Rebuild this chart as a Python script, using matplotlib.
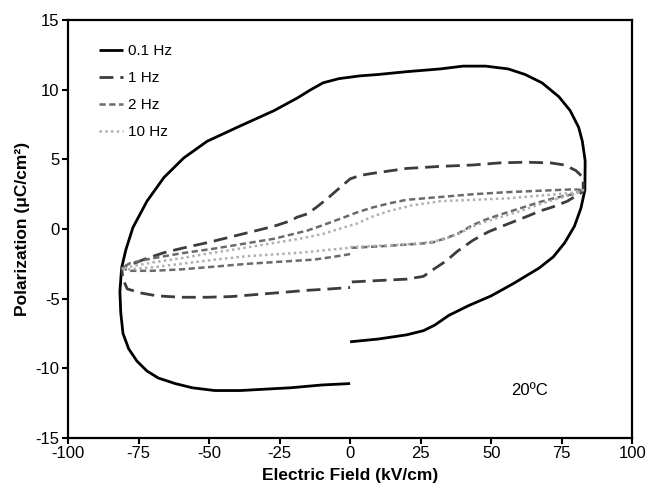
import numpy as np
import matplotlib
matplotlib.use("Agg")
from matplotlib import pyplot as plt

plt.rcParams['font.family'] = ['Liberation Sans', 'DejaVu Sans']
plt.rcParams['axes.unicode_minus'] = False

# 0.1 Hz loop (starts at E=0 on lower branch, goes right, over the top, back)
x01 = [0, 10, 20, 26, 30, 35, 42, 50, 58, 67, 72, 76, 79.5, 81.8, 83.2,
       83.3, 82.3, 81, 78, 74, 68, 62, 56, 48, 40, 32, 20, 10, 3.5, -4, -9.6,
       -14, -18.8, -27, -39, -50.7, -59, -66, -72, -77, -79.5, -81, -81.6,
       -81.3, -80.5, -78.5, -75.5, -72, -68, -62, -56, -48, -39, -30, -21, -10, 0]
y01 = [-8.1, -7.9, -7.6, -7.3, -6.9, -6.2, -5.5, -4.8, -3.9, -2.8, -2.0, -1.0, 0.2, 1.5, 2.8,
       4.9, 6.3, 7.3, 8.5, 9.5, 10.5, 11.1, 11.5, 11.7, 11.7, 11.5, 11.3, 11.1, 11.0, 10.8, 10.5,
       10.0, 9.4, 8.5, 7.4, 6.3, 5.1, 3.7, 2.0, 0.1, -1.5, -2.8, -4.5,
       -6.0, -7.5, -8.6, -9.5, -10.2, -10.7, -11.1, -11.4, -11.6, -11.6, -11.5, -11.4, -11.2, -11.1]

# 1 Hz loop
x1 = [0.6, 10, 20, 26, 29.5, 34, 38, 43.6, 49, 55.7, 62, 67.4, 72, 77, 82.6,
      82.6, 80, 76, 71, 62, 53, 43.6, 32, 20, 8, 3.5, 0, -4.6, -8, -11.7, -15,
      -18.8, -21, -27, -33, -39, -45, -50, -56.7, -60, -66, -72, -77, -81,
      -80.5, -79, -74, -68.4, -60, -50.7, -42, -33, -24, -15, -7, 0]
y1 = [-3.8, -3.7, -3.6, -3.4, -2.9, -2.3, -1.6, -0.8, -0.2, 0.35, 0.85, 1.3, 1.6, 2.0, 2.7,
      3.7, 4.2, 4.6, 4.75, 4.8, 4.75, 4.6, 4.5, 4.35, 4.0, 3.85, 3.6, 2.8, 2.2, 1.6, 1.1,
      0.85, 0.6, 0.2, -0.1, -0.4, -0.7, -0.95, -1.25, -1.4, -1.7, -2.1, -2.5, -2.8,
      -3.6, -4.3, -4.6, -4.8, -4.9, -4.9, -4.85, -4.7, -4.55, -4.4, -4.3, -4.2]

# 2 Hz loop
x2 = [0.5, 10, 17.7, 25, 29.5, 34, 38, 43.6, 49, 55.7, 62, 67.4, 73, 79, 82.6,
      79, 67.4, 55.7, 43.6, 32, 20, 14, 8, 2.5, -2, -6, -10, -15, -21, -27, -33,
      -39, -48, -60, -70, -78, -81,
      -78, -70, -60, -48, -36.5, -25, -13, -6, 0]
y2 = [-1.35, -1.25, -1.15, -1.05, -0.95, -0.65, -0.35, 0.3, 0.75, 1.2, 1.6, 1.95, 2.25, 2.5, 2.8,
      2.85, 2.75, 2.65, 2.5, 2.3, 2.1, 1.85, 1.55, 1.2, 0.85, 0.55, 0.25, -0.1, -0.4, -0.7, -0.9,
      -1.1, -1.4, -1.75, -2.1, -2.45, -2.8,
      -3.0, -3.0, -2.9, -2.7, -2.5, -2.35, -2.2, -2.0, -1.8]

# 10 Hz loop
x10 = [0, 10, 20, 28, 33, 38, 43.6, 49, 55.7, 62, 67.4, 73, 79, 82.6,
       79, 67.4, 55.7, 43.6, 32, 22, 14, 8, 2.5, -4, -9.6, -18, -27, -39, -50,
       -60, -70, -78, -81,
       -78, -70, -60, -48, -36.5, -25, -17.7, -8, 0]
y10 = [-1.3, -1.2, -1.1, -0.95, -0.75, -0.4, 0.2, 0.6, 1.0, 1.4, 1.8, 2.15, 2.5, 2.8,
       2.6, 2.4, 2.2, 2.1, 2.0, 1.7, 1.3, 0.9, 0.4, 0.0, -0.35, -0.7, -1.0, -1.4, -1.75,
       -2.1, -2.4, -2.7, -2.85,
       -2.9, -2.75, -2.5, -2.2, -1.95, -1.8, -1.7, -1.5, -1.35]

labels = ['0.1 Hz', '1 Hz', '2 Hz', '10 Hz']

fig = plt.figure(figsize=(6.6, 4.92), dpi=100)
ax = fig.add_axes([0.103, 0.110, 0.855, 0.849])

ax.plot(x01, y01, color='black', lw=2.0, label=labels[0], solid_capstyle='butt')
l1, = ax.plot(x1, y1, color='#3c3c3c', lw=2.0, label=labels[1])
l1.set_dashes((5, 2.5))
l2, = ax.plot(x2, y2, color='#6a6a6a', lw=1.8, label=labels[2])
l2.set_dashes((2.5, 1.4))
l3, = ax.plot(x10, y10, color='#b0b0b0', lw=1.8, label=labels[3])
l3.set_dashes((1, 1.3))

ax.set_xlim(-100, 100)
ax.set_ylim(-15, 15)
ax.set_xticks(np.arange(-100, 101, 25))
ax.set_yticks(np.arange(-15, 16, 5))
ax.tick_params(direction='out', length=4, width=1.5, labelsize=12, colors='black', pad=2)
for s in ax.spines.values():
    s.set_linewidth(1.6)

ax.set_xlabel('Electric Field (kV/cm)', fontweight='bold', fontsize=12.5, labelpad=5)
ax.set_ylabel('Polarization (\u03bcC/cm\u00b2)', fontweight='bold', fontsize=12.5, labelpad=4)

ax.text(63.5, -11.6, '20\u00baC', fontsize=12, ha='center', va='center')

ax.legend(loc='upper left', frameon=False, fontsize=11, handlelength=1.6,
          handletextpad=0.3, labelspacing=0.85, bbox_to_anchor=(0.03, 0.975))

fig.savefig('out.png', dpi=100)
